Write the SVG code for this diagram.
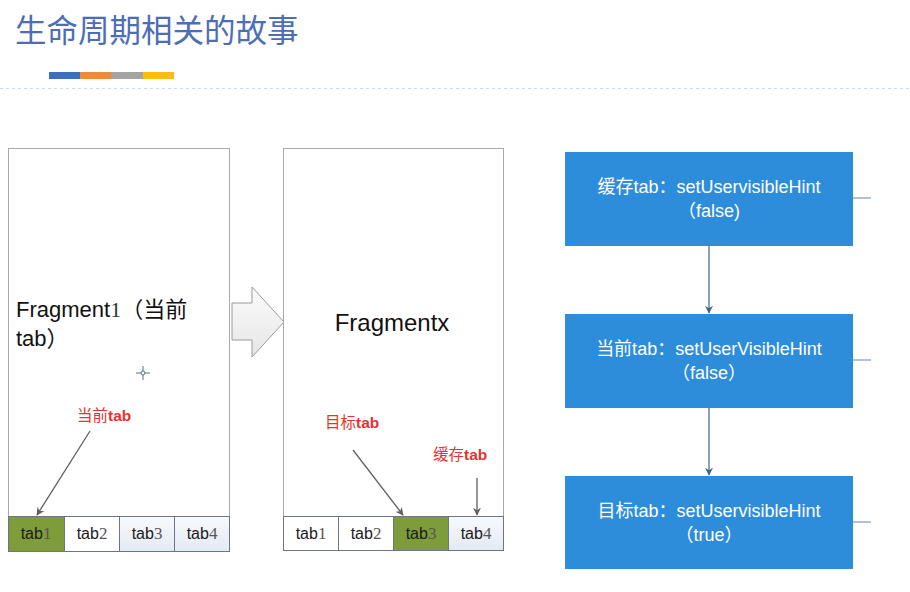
<svg xmlns="http://www.w3.org/2000/svg" width="910" height="592" viewBox="0 0 910 592">
  <defs>
    <style>
      .title { font-family: "Noto Sans CJK SC", "Liberation Sans", sans-serif; font-size: 31.5px; fill: #4d6eb4; }
      .panel { fill: #ffffff; stroke: #a9a9a9; stroke-width: 1; }
      .tab { stroke: #6a7586; stroke-width: 1; }
      .tab-plain { fill: #ffffff; }
      .tab-pale { fill: url(#paleTab); }
      .tab-on { fill: #7f9c3b; }
      .tablabel { font-family: "Liberation Sans", "Noto Sans CJK SC", sans-serif; font-size: 16px; fill: #1a1a1a; text-anchor: middle; }
      .digit { font-family: "Liberation Serif", serif; font-size: 17px; fill: #555; }
      .bigdigit { font-family: "Liberation Serif", serif; font-size: 22px; fill: #333; }
      .frag { font-family: "Liberation Sans", "Noto Sans CJK SC", sans-serif; font-size: 22px; fill: #111; }
      .note { font-family: "Liberation Sans", "Noto Sans CJK SC", sans-serif; font-size: 15.5px; fill: #e8322f; }
      .step { fill: #2e8ddb; }
      .steptext { font-family: "Liberation Sans", "Noto Sans CJK SC", sans-serif; font-size: 18px; fill: #ffffff; text-anchor: middle; }
      .pointer { stroke: #5f5f5f; stroke-width: 1.3; fill: none; marker-end: url(#grayHead); }
      .flow { stroke: #4a6e93; stroke-width: 1.3; fill: none; }
      .stub { stroke: #8ca2bb; stroke-width: 1.3; fill: none; }
    </style>
    <linearGradient id="paleTab" x1="0" y1="0" x2="0" y2="1">
      <stop offset="0" stop-color="#f7f9fc"/>
      <stop offset="1" stop-color="#e4eaf3"/>
    </linearGradient>
    <linearGradient id="bigArrowFill" x1="0" y1="0" x2="0" y2="1">
      <stop offset="0" stop-color="#fbfbfb"/>
      <stop offset="1" stop-color="#e6e6e6"/>
    </linearGradient>
    <marker id="grayHead" viewBox="0 0 10 10" refX="9" refY="5" markerWidth="8" markerHeight="8" orient="auto" markerUnits="userSpaceOnUse">
      <path d="M0,0 L10,5 L0,10 L3,5 Z" fill="#5f5f5f"/>
    </marker>
    <marker id="flowHead" viewBox="0 0 10 10" refX="9" refY="5" markerWidth="8" markerHeight="8" orient="auto" markerUnits="userSpaceOnUse">
      <path d="M0,0 L10,5 L0,10 L3,5 Z" fill="#3e6489"/>
    </marker>
  </defs>

  <rect width="910" height="592" fill="#ffffff"/>

  <!-- heading -->
  <g id="heading">
    <text class="title" x="15" y="42">生命周期相关的故事</text>
    <rect x="49" y="72" width="31" height="7" fill="#3d6fc0"/>
    <rect x="80" y="72" width="31" height="7" fill="#f08a34"/>
    <rect x="111" y="72" width="32" height="7" fill="#a3a3a3"/>
    <rect x="143" y="72" width="31" height="7" fill="#fbbd12"/>
    <line x1="0" y1="88.5" x2="910" y2="88.5" stroke="#c6dcef" stroke-width="1" stroke-dasharray="3,3"/>
  </g>

  <!-- left phone screen -->
  <g id="fragment1">
    <rect class="panel" x="8.5" y="148.5" width="221" height="403"/>
    <text class="frag" x="16" y="317">Fragment<tspan class="bigdigit">1</tspan>（当前</text>
    <text class="frag" x="16" y="346">tab）</text>
    <g stroke="#55707f" stroke-width="1" fill="none">
      <line x1="136" y1="373" x2="150" y2="373"/>
      <line x1="143" y1="366" x2="143" y2="380"/>
      <circle cx="143" cy="373" r="2" fill="#ffffff"/>
    </g>
    <text class="note" x="77" y="421">当前<tspan font-weight="bold">tab</tspan></text>
    <g id="tabs1">
      <rect class="tab tab-on" x="8.5" y="516.5" width="56" height="35"/>
      <rect class="tab tab-plain" x="64.5" y="516.5" width="55" height="35"/>
      <rect class="tab tab-pale" x="119.5" y="516.5" width="55" height="35"/>
      <rect class="tab tab-pale" x="174.5" y="516.5" width="55" height="35"/>
      <text class="tablabel" x="36" y="539">tab<tspan class="digit">1</tspan></text>
      <text class="tablabel" x="92" y="539">tab<tspan class="digit">2</tspan></text>
      <text class="tablabel" x="147" y="539">tab<tspan class="digit">3</tspan></text>
      <text class="tablabel" x="202" y="539">tab<tspan class="digit">4</tspan></text>
    </g>
  </g>

  <!-- transition arrow -->
  <g id="transition">
    <path d="M232,303 L252,303 L252,287 L284,322 L252,357 L252,340 L232,340 Z" fill="url(#bigArrowFill)" stroke="#9a9a9a" stroke-width="1"/>
  </g>

  <!-- middle phone screen -->
  <g id="fragmentx">
    <rect class="panel" x="283.5" y="148.5" width="220" height="402"/>
    <text class="frag" x="392" y="331" text-anchor="middle" font-size="24" style="font-size:24px">Fragmentx</text>
    <text class="note" x="325" y="428">目标<tspan font-weight="bold">tab</tspan></text>
    <text class="note" x="433" y="460">缓存<tspan font-weight="bold">tab</tspan></text>
    <g id="tabsx">
      <rect class="tab tab-plain" x="283.5" y="516.5" width="55" height="34"/>
      <rect class="tab tab-plain" x="338.5" y="516.5" width="55" height="34"/>
      <rect class="tab tab-on" x="393.5" y="516.5" width="55" height="34"/>
      <rect class="tab tab-pale" x="448.5" y="516.5" width="55" height="34"/>
      <text class="tablabel" x="311" y="539">tab<tspan class="digit">1</tspan></text>
      <text class="tablabel" x="366" y="539">tab<tspan class="digit">2</tspan></text>
      <text class="tablabel" x="421" y="539">tab<tspan class="digit">3</tspan></text>
      <text class="tablabel" x="476" y="539">tab<tspan class="digit">4</tspan></text>
    </g>
  </g>

  <!-- lifecycle steps -->
  <g id="step-cache">
    <rect class="step" x="565" y="152" width="288" height="94"/>
    <text class="steptext" x="709" y="193">缓存tab：setUservisibleHint</text>
    <text class="steptext" x="709" y="217">（false)</text>
  </g>
  <g id="step-current">
    <rect class="step" x="565" y="314" width="288" height="94"/>
    <text class="steptext" x="709" y="355">当前tab：setUserVisibleHint</text>
    <text class="steptext" x="709" y="379">（false）</text>
  </g>
  <g id="step-target">
    <rect class="step" x="565" y="476" width="288" height="93"/>
    <text class="steptext" x="709" y="517">目标tab：setUservisibleHint</text>
    <text class="steptext" x="709" y="541">（true）</text>
  </g>

  <!-- connectors -->
  <g id="connectors">
    <line class="pointer" x1="90" y1="431" x2="37" y2="515"/>
    <line class="pointer" x1="353" y1="450" x2="403" y2="515"/>
    <line class="pointer" x1="477" y1="478" x2="477" y2="515"/>
    <line class="flow" x1="709" y1="246" x2="709" y2="313" marker-end="url(#flowHead)"/>
    <line class="flow" x1="709" y1="408" x2="709" y2="475" marker-end="url(#flowHead)"/>
    <line class="stub" x1="853" y1="198" x2="871" y2="198"/>
    <line class="stub" x1="853" y1="360" x2="871" y2="360"/>
    <line class="stub" x1="853" y1="522" x2="871" y2="522"/>
  </g>
</svg>
